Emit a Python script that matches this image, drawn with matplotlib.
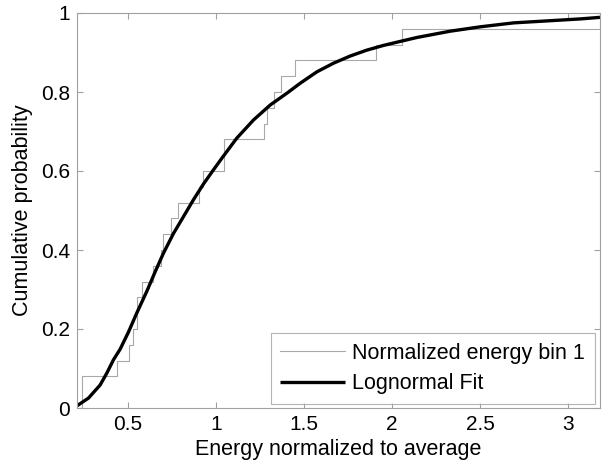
import numpy as np
import matplotlib
matplotlib.use("Agg")
import matplotlib.pyplot as plt

plt.rcParams['font.family'] = ['Liberation Sans', 'DejaVu Sans']

# Sorted sample values (normalized energy, bin 1) read from the empirical CDF steps
samples = [0.24, 0.24, 0.436, 0.507, 0.526, 0.550, 0.550, 0.580, 0.644,
           0.688, 0.697, 0.742, 0.786, 0.900, 0.928, 1.044, 1.044, 1.273,
           1.290, 1.326, 1.367, 1.446, 1.907, 2.053, 3.18]

# Lognormal fit CDF points
fit_x = [0.208, 0.275, 0.341, 0.379, 0.417, 0.455, 0.502, 0.549, 0.606, 0.653,
         0.701, 0.758, 0.814, 0.871, 0.928, 0.985, 1.032, 1.117, 1.212, 1.307,
         1.402, 1.477, 1.572, 1.667, 1.761, 1.856, 1.951, 2.045, 2.140, 2.235,
         2.330, 2.500, 2.689, 2.879, 3.068, 3.180]
fit_y = [0.005, 0.025, 0.058, 0.088, 0.122, 0.149, 0.192, 0.240, 0.295, 0.344,
         0.392, 0.442, 0.484, 0.527, 0.567, 0.603, 0.632, 0.683, 0.729, 0.767,
         0.797, 0.822, 0.851, 0.873, 0.891, 0.906, 0.918, 0.928, 0.938, 0.946,
         0.954, 0.965, 0.975, 0.980, 0.985, 0.989]

x_ticks = [0.5, 1, 1.5, 2, 2.5, 3]
x_ticklabels = ['0.5', '1', '1.5', '2', '2.5', '3']
y_ticks = [0, 0.2, 0.4, 0.6, 0.8, 1]
y_ticklabels = ['0', '0.2', '0.4', '0.6', '0.8', '1']

fig = plt.figure(figsize=(6.04, 4.74), dpi=100)
ax = fig.add_axes([77/604, 1-408/474, 523/604, 395/474])

s = np.array(samples)
n = len(s)
step_x = np.concatenate([[s[0]], s])
step_y = np.concatenate([[0.0], np.arange(1, n + 1) / n])
ax.step(step_x, step_y, where='post', color='#a8a8a8', lw=0.8,
        label='Normalized energy bin 1')
ax.plot(fit_x, fit_y, color='black', lw=2.4, label='Lognormal Fit',
        solid_capstyle='butt')

ax.set_xlim(0.21, 3.18)
ax.set_ylim(0, 1)
ax.set_xticks(x_ticks)
ax.set_xticklabels(x_ticklabels)
ax.set_yticks(y_ticks)
ax.set_yticklabels(y_ticklabels)

spine_col = '#a0a0a0'
for sp in ax.spines.values():
    sp.set_color(spine_col)
    sp.set_linewidth(0.8)
ax.tick_params(direction='in', length=4, width=0.8, color=spine_col,
               top=True, right=True, labelsize=15, labelcolor='black', pad=5)

ax.set_xlabel('Energy normalized to average', fontsize=15.5, labelpad=4)
ax.set_ylabel('Cumulative probability', fontsize=15.5, labelpad=6)

leg = ax.legend(loc='lower right', bbox_to_anchor=(0.99, 0.01), fontsize=15.5,
                frameon=True, fancybox=False, handlelength=3.0,
                handletextpad=0.35, borderaxespad=0, borderpad=0.45,
                labelspacing=0.45)
leg.get_frame().set_edgecolor(spine_col)
leg.get_frame().set_linewidth(0.8)

fig.savefig('out.png', dpi=100)
